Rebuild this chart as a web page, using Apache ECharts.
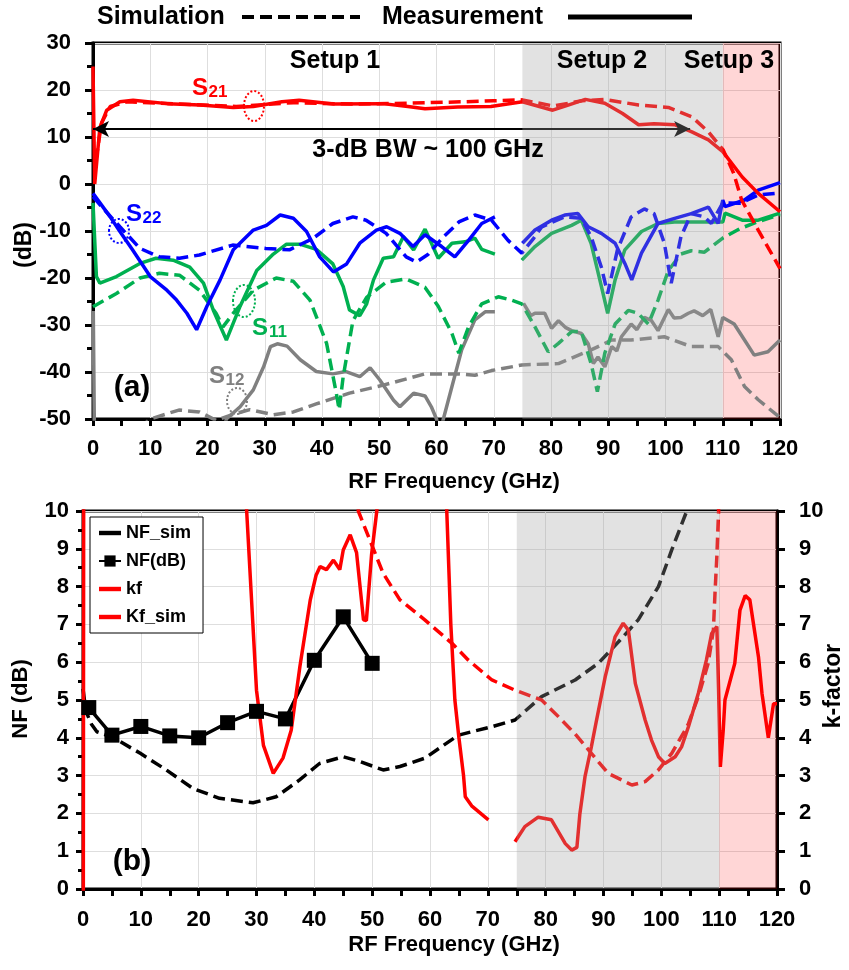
<!DOCTYPE html>
<html><head><meta charset="utf-8">
<script src="https://cdn.jsdelivr.net/npm/echarts/dist/echarts.min.js"></script>
<style>html,body{margin:0;padding:0;background:#fff}#c{width:849px;height:970px}</style>
</head><body><div id="c"></div>
<script>
// ---------- DATA (top: S-parameters, dB) ----------
const s21Meas = [[0,25],[0.3,0],[1.2,12],[2.4,15.7],[4.7,17.5],[7,17.8],[13,17.1],[18.7,16.8],[24.5,16.3],[28,16.5],[33,17.5],[36,17.8],[42,17],[50.6,17.1],[55,16.5],[58,16],[63.7,16.4],[69.5,16.5],[75,17.5],[80.3,15.7],[83,16.8],[86,18],[89.4,17.2],[92.5,15],[95.3,12.6],[98,12.8],[101.7,12.6],[104.6,11.1],[107.5,9.4],[110,6.9],[113.4,1.5],[116.2,-2],[120,-5.9]];
const s21Sim = [[0.5,5],[1.5,13],[3,16.5],[6,17.5],[15,17],[25,16.5],[35,17.3],[45,17],[55,17.2],[65,17.5],[70,17.7],[75,17.9],[80.4,16.6],[85.4,17.7],[89.4,18],[95.3,16.8],[100.5,16.3],[104.6,14.3],[107.5,11.1],[110.1,7.2],[111.9,2.3],[113.3,-3.4],[116.2,-9.8],[120,-18]];
const s22Meas = [[0,-2],[3,-7],[4.7,-10.1],[6.9,-14],[10,-19.7],[12.9,-22.6],[14.6,-24.7],[16.4,-27.5],[18.1,-31],[19.9,-26],[22.2,-20.4],[24.5,-14],[28,-9.8],[30.3,-8.8],[32.7,-6.6],[35,-7.3],[37.3,-10.1],[39.6,-15.5],[42,-18.7],[44.3,-17],[46.6,-12.6],[49.5,-9.8],[51.3,-9.1],[53.6,-10.5],[55.9,-13.3],[58,-10.8],[60.9,-13.3],[63.2,-15.5],[65.6,-12],[67.9,-8.4],[70.2,-7],[72,null],[75,-12.6],[77.2,-9.8],[80.1,-7.7],[82.4,-6.6],[84.7,-6.3],[86.5,-9.1],[88.8,-10.5],[91.2,-12.6],[92.9,-16.9],[94.1,-20.4],[95.8,-14.7],[98.7,-8.4],[101.6,-7.3],[104.5,-6.3],[107.5,-4.9],[109.2,-8.4],[110,-3.4],[110.4,-4.8],[113.8,-3.4],[116.2,-1.3],[120,0.3]];
const s22Sim = [[0,-2.7],[2,-5.5],[4.7,-9.1],[8.2,-13.7],[11.6,-15.5],[15.1,-15.8],[18.6,-15.1],[24.4,-13],[30.2,-13.7],[34.3,-14],[38.4,-11.6],[41.9,-8.4],[45.4,-7],[47.7,-7.7],[51.2,-10.5],[54.7,-15.5],[56.5,-16.6],[58.5,-15],[61,-11.5],[64,-8],[66.7,-6.6],[69.6,-7.7],[72.5,-12],[74.9,-14.7],[77,-11.5],[78.4,-9.1],[82.4,-7],[85.3,-7.3],[87,-11.2],[88.8,-17.7],[89.9,-23.3],[91.6,-14],[94,-7],[96.3,-5.3],[98,-6.3],[99.8,-12.6],[101,-21.1],[102.7,-11.2],[104.5,-6.3],[106.8,-7],[108,-8.4],[110,-4],[113,-4.1],[116.3,-2.3],[120,-1.9]];
const s11Meas = [[0,-4],[0.3,-12],[0.6,-19.7],[1.2,-21.1],[4.1,-19.7],[8.2,-16.9],[11,-15.8],[14,-16.2],[16.9,-17.7],[19.3,-21.1],[21,-26.8],[23.3,-33.2],[25.7,-26],[28.6,-18.4],[31.5,-14.9],[33.8,-12.8],[36.1,-12.8],[39,-13.9],[41.9,-17],[43.7,-21.8],[44.8,-26.8],[46.6,-28],[47.8,-25.5],[49,-20.4],[50.7,-15.8],[52.5,-15.5],[54.2,-11.2],[56,-14],[58,-9.6],[60.3,-15.8],[62.7,-12.6],[65,-12.3],[66.7,-11.5],[67.9,-13.9],[70.2,-14.9],[72,null],[74.9,-16.2],[77.2,-13.3],[80.1,-10.5],[83.6,-8.8],[85.3,-7.7],[87,-12.6],[88.8,-21.8],[89.9,-27.5],[91.2,-20.4],[92.9,-14],[95.8,-10.1],[98.7,-8.4],[101.6,-8.1],[107.5,-8.1],[110,-8.1],[110.4,-6.2],[113.4,-7.7],[116.2,-7.7],[120,-6.2]];
const s11Sim = [[0,-26.1],[4.1,-23.3],[8.2,-20],[11.6,-19],[15.1,-19.4],[18.6,-22.6],[21.5,-27.5],[22.7,-30.4],[24.5,-27.5],[28,-22.6],[32,-20],[35,-20.7],[37.9,-24.7],[40.8,-33.9],[42.5,-44.5],[43,-48],[43.7,-41],[45.4,-29.1],[47.8,-24.1],[51.2,-20.9],[54.7,-20.2],[58,-22],[60.3,-26],[62.7,-31.8],[63.9,-36],[65.6,-30.4],[67.9,-25.5],[70.8,-24],[73.1,-24.7],[74.9,-25.5],[77.2,-30.4],[79.5,-35.7],[81.3,-33.9],[83.6,-31.4],[85.3,-31.4],[87,-38.2],[88.1,-44.2],[89.4,-36],[91.2,-29.8],[93.5,-26.9],[95.2,-27.5],[97,-29.8],[98.7,-24.7],[100.5,-18.4],[102.7,-14.9],[104.5,-14.2],[106.8,-14.5],[110,-11.5],[113,-9.5],[116.2,-8],[120,-6.5]];
const s12Meas = [[0.05,-27],[0.3,-60],[22,-56],[23.3,-50],[25.7,-47.4],[28,-43.8],[29.8,-38.9],[31,-34.6],[32.2,-34],[33.9,-34.5],[36.2,-37.4],[39,-39.9],[41.9,-40.4],[44.2,-39.9],[46.6,-41],[48.4,-39.1],[50.1,-41.7],[52.5,-46],[53.6,-47.4],[56,-44.5],[58,-45.1],[59.1,-47.4],[60,-50],[60.6,-53],[61.2,-50],[62.7,-43.1],[64.4,-35.3],[66.7,-28.9],[68.5,-27.2],[70.2,-27.2],[72,null],[75.2,-25.4],[76.5,-28],[77.2,-27.5],[78.9,-27.5],[80.1,-30.7],[81.3,-29.1],[82.5,-30.5],[83.6,-31.2],[85.3,-31.8],[86.5,-34],[87.4,-38.2],[88.2,-36.8],[89.4,-38.9],[90.6,-34.6],[91.5,-35.5],[92.3,-32.5],[94,-29.8],[95,-31],[96.3,-28.4],[97.5,-29],[98.7,-31.2],[100.5,-26.7],[101.5,-28.5],[102.7,-28.4],[104,-27.5],[105,-27],[106.5,-28],[107.9,-26.7],[109.2,-32.5],[110,-28.4],[112,-29.8],[113.8,-33.2],[115.5,-36.4],[117.9,-35.7],[120,-33.2]];
const s12Sim = [[8,-52],[10,-50],[15,-48.1],[18.6,-48.5],[21.5,-50.3],[24.5,-49],[27.4,-48],[31.5,-49.1],[35,-48.5],[39,-46.8],[44.8,-44.5],[50.7,-42.8],[58,-40.4],[63.9,-40.4],[66.7,-40.7],[69.6,-39.7],[74.9,-38.5],[81.3,-38.2],[87,-35.3],[90.6,-33.2],[94,-33.2],[99.8,-32.5],[104.5,-34.6],[109.2,-34.6],[111.5,-37.4],[113.8,-43.1],[116.2,-45.9],[119.7,-49.4],[120,-50]];
// 3-dB bandwidth arrow
const bwStart = 0, bwEnd = 104.3, bwLevel = 11.7;
// frequency regions
const setup2 = [75, 110], setup3 = [110, 120];

// ---------- DATA (bottom: NF and k-factor) ----------
const nfFreq = [1, 5, 10, 15, 20, 25, 30, 35, 40, 45, 50];
const nfMeas = [4.8, 4.07, 4.3, 4.05, 4.0, 4.4, 4.7, 4.5, 6.05, 7.2, 5.97];
const nfSim = [[0,5.3],[0.5,4.7],[1.5,4.35],[2.4,4.16],[5.3,4.0],[9.9,3.59],[14.4,3.15],[19,2.66],[23.6,2.4],[29.4,2.28],[33.4,2.44],[37.4,2.88],[40.9,3.32],[45,3.5],[47.9,3.37],[51.9,3.15],[54.8,3.24],[59.1,3.46],[64.9,4.07],[70.6,4.29],[74.7,4.47],[79.3,5.09],[85.1,5.53],[89.1,5.97],[92.6,6.54],[96,7.12],[99.5,8.0],[101.8,8.97],[104.4,10.0],[106,11]];
const kfMeas = [[0.05,-1],[0.12,11],[10,null],[28,11],[28.3,10],[30,5.26],[31.2,3.8],[32.9,3.06],[34.6,3.47],[36,4.2],[37.5,5.88],[39.3,7.65],[40.3,8.3],[41,8.53],[42.1,8.45],[43.3,8.7],[44.4,8.45],[45,8.97],[46.2,9.37],[47.3,8.9],[48.5,7.12],[49,7.1],[49.9,8.85],[50.8,10],[51.2,11],[56,null],[62.7,11],[62.9,10],[63.6,7],[64.3,5],[65,4],[65.8,3],[66.1,2.44],[67.2,2.2],[70.1,1.83],[72,null],[74.7,1.25],[76.4,1.65],[78.7,1.9],[81.0,1.83],[83.4,1.2],[84.5,1.03],[85.4,1.1],[85.9,1.97],[86.8,2.97],[87.9,3.76],[88.8,4.47],[90.3,5.62],[92.0,6.67],[93.4,7.03],[94.3,6.85],[95.5,5.44],[97.2,4.47],[98.3,3.94],[99.5,3.5],[100.6,3.32],[102.4,3.5],[103.5,3.76],[104.7,4.3],[106.4,5.18],[107.8,6.06],[108.7,6.76],[109.6,6.94],[109.9,5.26],[110.2,3.23],[110.7,4.2],[111.0,5.0],[112.7,5.97],[113.6,7.38],[114.5,7.76],[115.3,7.65],[116.8,6.14],[117.4,5.18],[118.5,4.0],[119.4,4.9],[120,4.9]];
const kfSim = [[47.4,11],[47.6,10],[49.6,9.23],[51.9,8.35],[54.8,7.65],[59.1,7.12],[63.8,6.5],[66.6,6.06],[70.7,5.53],[74.7,5.26],[79.3,5.0],[82.2,4.56],[85.1,4.1],[87.9,3.59],[90.8,3.06],[94.9,2.75],[97.2,2.84],[99.5,3.15],[101.8,3.59],[104.1,4.2],[104.7,4.38],[106.4,5.09],[108.1,5.97],[109,6.85],[109.3,7.9],[109.6,8.8],[109.9,10],[110,11]];

// ---------- STYLE ----------
const FONT = '"Liberation Sans", Arial, sans-serif';
const RED = '#ff0000', BLUE = '#0000ff', GREEN = '#00b050', GRAY = '#808080';
const DASH = [12, 6];
const LW = 3.5;
const BAR_ICON = 'path://M0,0 L10,0 L10,2 L0,2 Z';
const chart = echarts.init(document.getElementById('c'), null, {renderer: 'canvas'});

function ln(name, data, color, dashed, xi, yi, extra) {
  return Object.assign({
    name, type: 'line', data, xAxisIndex: xi, yAxisIndex: yi,
    showSymbol: false, symbol: 'none', connectNulls: false, clip: true,
    lineStyle: {color, width: LW, type: dashed ? DASH : 'solid'},
    itemStyle: {color}, z: 3, silent: true
  }, extra || {});
}
const lbl = {color: '#000', fontSize: 22, fontWeight: 'bold', fontFamily: FONT};
function xAx(gi, margin) {
  return {gridIndex: gi, type: 'value', min: 0, max: 120, interval: 10,
    axisLine: {show: true, onZero: false, lineStyle: {color: '#000', width: 3}},
    axisTick: {show: true, length: 7, lineStyle: {color: '#000', width: 3}},
    minorTick: {show: true, splitNumber: 2, length: 7, lineStyle: {color: '#000', width: 3}},
    axisLabel: Object.assign({margin}, lbl),
    splitLine: {show: true, lineStyle: {color: '#dedede', width: 1}}};
}
function region(xi, yi, range, color, z) {
  return {type: 'line', xAxisIndex: xi, yAxisIndex: yi, data: [], z, silent: true,
    markArea: {silent: true, z, itemStyle: {color}, data: [[{xAxis: range[0]}, {xAxis: range[1]}]]}};
}
function txt(x, y, text, size, color, extra) {
  return Object.assign({type: 'text', x, y, z: 100, silent: true,
    style: {text, fill: color || '#000', fontSize: size, fontWeight: 'bold', fontFamily: FONT, align: 'center', verticalAlign: 'middle'}}, extra || {});
}
function ell(cx, cy, rx, ry, color) {
  return {type: 'ellipse', shape: {cx, cy, rx, ry}, z: 100, silent: true,
    style: {fill: 'none', stroke: color, lineWidth: 2, lineDash: [2, 2]}};
}
function sLabel(x, y, sub, color) {
  return [txt(x, y, 'S', 24, color, {}), txt(x + 18, y + 4, sub, 17, color, {})];
}

const option = {
  animation: false,
  backgroundColor: '#fff',
  grid: [
    {left: 93, top: 43, width: 687, height: 376, show: true, borderColor: '#000', borderWidth: 3, backgroundColor: 'transparent'},
    {left: 83, top: 511, width: 694, height: 378, show: true, borderColor: '#000', borderWidth: 3, backgroundColor: 'transparent'}
  ],
  xAxis: [xAx(0, 19), xAx(1, 20)],
  yAxis: [
    {gridIndex: 0, type: 'value', min: -50, max: 30, interval: 10,
      axisLine: {show: true, onZero: false, lineStyle: {color: '#000', width: 3}},
      axisTick: {show: true, length: 8, lineStyle: {color: '#000', width: 3}},
      minorTick: {show: true, splitNumber: 2, length: 6, lineStyle: {color: '#000', width: 3}},
      axisLabel: Object.assign({margin: 22}, lbl),
      splitLine: {show: true, lineStyle: {color: '#dedede', width: 1}}},
    {gridIndex: 1, type: 'value', min: 0, max: 10, interval: 1,
      axisLine: {show: true, onZero: false, lineStyle: {color: '#000', width: 3}},
      axisTick: {show: true, length: 7, lineStyle: {color: '#000', width: 3}},
      minorTick: {show: true, splitNumber: 2, length: 5, lineStyle: {color: '#000', width: 3}},
      axisLabel: Object.assign({margin: 14}, lbl),
      splitLine: {show: true, lineStyle: {color: '#dedede', width: 1}}},
    {gridIndex: 1, type: 'value', min: 0, max: 10, interval: 1, position: 'right',
      axisLine: {show: true, onZero: false, lineStyle: {color: '#000', width: 3}},
      axisTick: {show: true, length: 8, lineStyle: {color: '#000', width: 3}},
      axisLabel: Object.assign({margin: 22}, lbl),
      splitLine: {show: false}}
  ],
  legend: {
    data: [{name: 'NF_sim', icon: BAR_ICON}, {name: 'NF(dB)'}, {name: 'kf', icon: BAR_ICON}, {name: 'Kf_sim', icon: BAR_ICON}],
    orient: 'vertical', left: 90, top: 517, itemWidth: 22, itemHeight: 14, itemGap: 10,
    borderColor: '#000', borderWidth: 1, backgroundColor: '#fff', padding: [7, 12, 7, 8],
    textStyle: {color: '#000', fontSize: 18, fontWeight: 'bold', fontFamily: FONT}, z: 50
  },
  series: [
    region(0, 0, setup3, 'rgba(255,0,0,0.16)', 1),
    region(1, 1, setup3, 'rgba(255,0,0,0.16)', 1),
    ln('S12 sim', s12Sim, GRAY, true, 0, 0),
    ln('S12 meas', s12Meas, GRAY, false, 0, 0),
    ln('S11 sim', s11Sim, GREEN, true, 0, 0),
    ln('S11 meas', s11Meas, GREEN, false, 0, 0),
    ln('S22 sim', s22Sim, BLUE, true, 0, 0),
    ln('S22 meas', s22Meas, BLUE, false, 0, 0),
    ln('S21 sim', s21Sim, RED, true, 0, 0),
    ln('S21 meas', s21Meas, RED, false, 0, 0),
    {type: 'line', xAxisIndex: 0, yAxisIndex: 0, data: [], z: 4, silent: true,
      markLine: {silent: true, symbol: ['arrow', 'arrow'], symbolSize: [12, 16], label: {show: false},
        lineStyle: {color: '#000', width: 2, type: 'solid'},
        data: [[{coord: [bwStart, bwLevel]}, {coord: [bwEnd, bwLevel]}]]}},
    ln('NF_sim', nfSim, '#000', true, 1, 1),
    ln('NF(dB)', nfFreq.map((f, i) => [f, nfMeas[i]]), '#000', false, 1, 1,
      {showSymbol: true, symbol: 'rect', symbolSize: 15}),
    ln('kf', kfMeas, RED, false, 1, 2),
    ln('Kf_sim', kfSim, RED, true, 1, 2),
    region(0, 0, setup2, 'rgba(160,160,160,0.3)', 10),
    region(1, 1, setup2, 'rgba(160,160,160,0.3)', 10)
  ],
  graphic: [
    txt(97, 17, 'Simulation', 25, '#000', {style: {text: 'Simulation', fill: '#000', fontSize: 25, fontWeight: 'bold', fontFamily: FONT, align: 'left', verticalAlign: 'middle'}}),
    {type: 'line', shape: {x1: 242, y1: 17, x2: 360, y2: 17}, z: 100, style: {stroke: '#000', lineWidth: 4, lineDash: [12, 6]}},
    txt(382, 17, 'Measurement', 25, '#000', {style: {text: 'Measurement', fill: '#000', fontSize: 25, fontWeight: 'bold', fontFamily: FONT, align: 'left', verticalAlign: 'middle'}}),
    {type: 'line', shape: {x1: 568, y1: 17, x2: 692, y2: 17}, z: 100, style: {stroke: '#000', lineWidth: 5}},
    txt(335, 61, 'Setup 1', 25),
    txt(602, 61, 'Setup 2', 25),
    txt(729, 61, 'Setup 3', 25),
    txt(428, 150, '3-dB BW ~ 100 GHz', 25),
    ...sLabel(200, 88, '21', RED),
    ...sLabel(134, 214, '22', BLUE),
    ...sLabel(260, 328, '11', GREEN),
    ...sLabel(217, 376, '12', GRAY),
    ell(254, 106, 10, 15, RED),
    ell(119, 231, 10, 12, BLUE),
    ell(244, 301, 11, 16, GREEN),
    ell(237, 401, 10, 13, GRAY),
    txt(132, 388, '(a)', 30),
    txt(132, 862, '(b)', 30),
    txt(454, 482, 'RF Frequency (GHz)', 22),
    txt(454, 945, 'RF Frequency (GHz)', 22),
    txt(25, 245, '(dB)', 23, '#000', {rotation: Math.PI / 2}),
    txt(21, 699, 'NF (dB)', 22, '#000', {rotation: Math.PI / 2}),
    txt(834, 686, 'k-factor', 23, '#000', {rotation: Math.PI / 2})
  ]
};
chart.setOption(option);
</script></body></html>
